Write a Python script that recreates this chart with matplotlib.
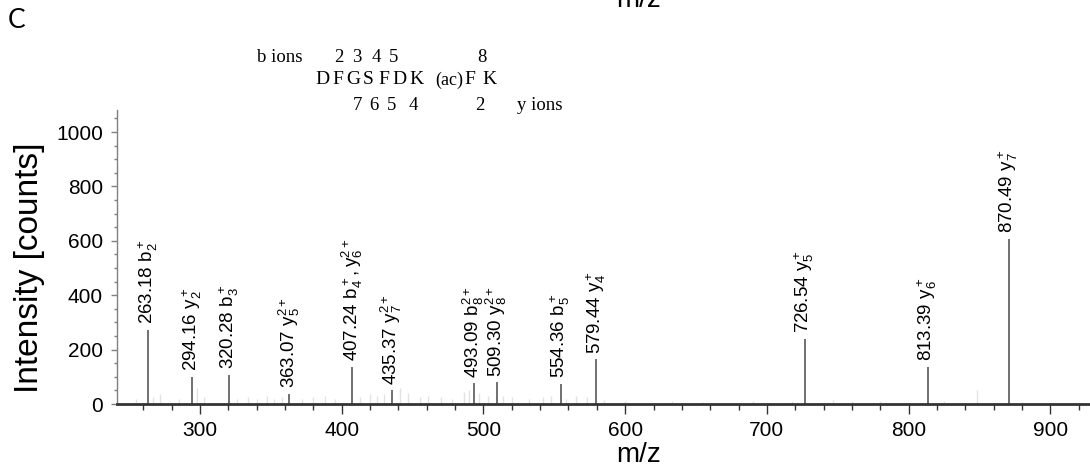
import numpy as np
import matplotlib
matplotlib.use('Agg')
from matplotlib import pyplot as plt
from matplotlib.ticker import MultipleLocator

# annotated fragment peaks
mz = [263.18, 294.16, 320.28, 363.07, 407.24, 435.37, 493.09, 509.30,
      554.36, 579.44, 726.54, 813.39, 870.49]
intensity = [272, 100, 107, 37, 137, 51, 77, 80, 75, 165, 239, 137, 607]
ions = ['b_2^+', 'y_2^+', 'b_3^+', 'y_5^{2+}', 'b_4^+,y_6^{2+}', 'y_7^{2+}',
        'b_8^{2+}', 'y_8^{2+}', 'b_5^+', 'y_4^+', 'y_5^+', 'y_6^+', 'y_7^+']

# faint background peaks
noise_mz = [255, 267, 272, 285, 298, 303, 326, 334, 340, 347, 352, 358, 372,
            380, 388, 395, 413, 420, 425, 430, 441, 447, 455, 461, 470, 478,
            486, 490, 497, 503, 514, 520, 532, 542, 548, 558, 565, 573, 585,
            600, 633, 655, 690, 718, 747, 760, 780, 825, 848, 880]
noise_int = [20, 25, 35, 20, 60, 25, 20, 25, 20, 30, 20, 25, 20,
             25, 30, 20, 25, 35, 30, 35, 60, 40, 25, 30, 25, 20,
             45, 50, 40, 30, 30, 25, 20, 25, 30, 20, 30, 25, 15,
             10, 12, 8, 10, 12, 15, 10, 10, 10, 50, 8]

# peptide sequence annotation
residues = ['D', 'F', 'G', 'S', 'F', 'D', 'K', '(ac)', 'F', 'K']
b_ions = ['2', '3', '4', '5', '8']
y_ions = ['7', '6', '5', '4', '2']

plt.rcParams['font.family'] = ['Liberation Sans', 'DejaVu Sans']
plt.rcParams['mathtext.fontset'] = 'custom'
plt.rcParams['mathtext.rm'] = 'Liberation Sans'
plt.rcParams['mathtext.it'] = 'Liberation Sans'

W, H = 1090, 475
fig = plt.figure(figsize=(W / 100, H / 100), dpi=100)
ax = fig.add_axes([117 / W, 71 / H, 973 / W, 294 / H])

def px(x, y):
    return x / W, 1 - y / H

ax.vlines(noise_mz, 0, noise_int, color='#e2e2e2', lw=1.0)
ax.vlines(mz, 0, intensity, color='#656565', lw=1.3)

for m, h, ion in zip(mz, intensity, ions):
    ax.annotate('%.2f $\\mathregular{%s}$' % (m, ion), (m, h),
                xytext=(0, 4), textcoords='offset points', rotation=90,
                ha='center', va='bottom', fontsize=13.5)

ax.set_xlim(241.4, 928)
ax.set_ylim(0, 1081)
ax.xaxis.set_major_locator(MultipleLocator(100))
ax.xaxis.set_minor_locator(MultipleLocator(20))
ax.yaxis.set_major_locator(MultipleLocator(200))
ax.yaxis.set_minor_locator(MultipleLocator(50))
ax.set_yticks([0, 200, 400, 600, 800, 1000])

for s in ['top', 'right']:
    ax.spines[s].set_visible(False)
ax.spines['bottom'].set_color('#333333')
ax.spines['bottom'].set_linewidth(2)
ax.spines['left'].set_color('#808080')
ax.spines['left'].set_linewidth(1)

ax.tick_params(axis='x', which='major', length=7, width=1, color='#333333',
               labelsize=15, pad=5)
ax.tick_params(axis='x', which='minor', length=4, width=1, color='#333333')
ax.tick_params(axis='y', which='major', length=4, width=1, color='#808080',
               labelsize=15, pad=6)
ax.tick_params(axis='y', which='minor', length=2, width=1, color='#808080')

ax.set_xlabel('m/z', fontsize=20)
ax.xaxis.set_label_coords((639 - 117) / 973, -0.13)
ax.set_ylabel('Intensity [counts]', fontsize=24)
ax.yaxis.set_label_coords(-0.074, 0.4626)

# panel letter and cut-off label from the panel above
fig.text(*px(8, 21), 'C', family='Lato', fontsize=19, va='center')
fig.text(*px(639, 7), 'm/z', fontsize=20, ha='center', va='baseline')

# sequence annotation
serif = dict(family='Liberation Serif', va='center')
fig.text(*px(257, 57), 'b ions', fontsize=13.5, ha='left', **serif)
for t, x in zip(b_ions, [339, 357, 376, 394, 482]):
    fig.text(*px(x, 57), t, fontsize=13.5, ha='center', **serif)
for t, x in zip(residues, [322, 337.5, 353, 368, 384, 399.5, 416, 463, 470, 489]):
    if t == '(ac)':
        fig.text(*px(x, 80), t, fontsize=13, ha='right', **serif)
    else:
        fig.text(*px(x, 80), t, fontsize=14, ha='center', **serif)
for t, x in zip(y_ions, [357, 374, 392, 413, 480]):
    fig.text(*px(x, 106), t, fontsize=13.5, ha='center', **serif)
fig.text(*px(517, 106), 'y ions', fontsize=13.5, ha='left', **serif)

fig.savefig('out.png', dpi=100)
